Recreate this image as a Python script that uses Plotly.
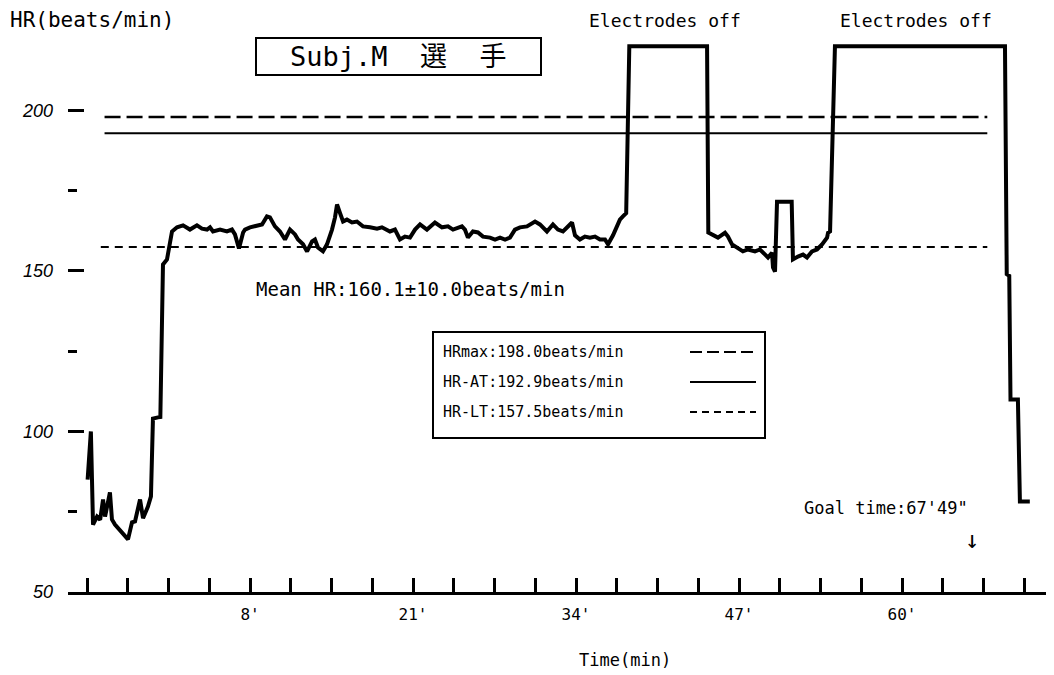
import plotly.graph_objects as go

# ---- data (time in minutes, heart rate in beats/min) ----
time_min = [
    -4.95, -4.69, -4.52, -4.20, -3.95, -3.72, -3.56, -3.17, -3.01, -2.77,
    -1.73, -1.41, -1.17, -0.77, -0.53, -0.14, 0.10, 0.26, 0.66, 0.85,
    1.06, 1.38, 1.78, 2.18, 2.66, 3.21, 3.77, 4.17, 4.57, 4.81,
    5.05, 5.61, 6.16, 6.56, 6.80, 7.12, 7.45, 7.60, 8.00, 8.56,
    8.96, 9.35, 9.59, 9.99, 10.39, 10.79, 11.19, 11.59, 11.83, 12.23,
    12.55, 12.95, 13.18, 13.42, 13.82, 14.14, 14.54, 14.78, 14.94, 15.18,
    15.42, 15.73, 16.13, 16.53, 17.01, 17.57, 18.13, 18.52, 19.16, 19.56,
    19.96, 20.36, 20.76, 21.16, 21.56, 22.11, 22.75, 23.31, 23.79, 24.19,
    24.90, 25.14, 25.38, 25.78, 26.18, 26.58, 27.14, 27.54, 27.94, 28.34,
    28.73, 29.13, 29.53, 30.09, 30.73, 31.12, 31.68, 32.16, 32.56, 32.96,
    33.68, 33.92, 34.31, 34.71, 35.11, 35.51, 35.91, 36.31, 36.55, 36.95,
    37.26, 37.50, 37.74, 38.00, 38.25, 44.45, 44.55, 45.08, 45.32, 45.88,
    46.12, 46.44, 46.84, 47.31, 47.71, 48.27, 48.67, 49.07, 49.31, 49.63,
    49.71, 49.87, 50.03, 51.20, 51.30, 51.70, 52.10, 52.42, 52.82, 53.22,
    53.62, 54.02, 54.10, 54.26, 54.65, 68.21, 68.35, 68.55, 68.65, 69.24,
    69.40, 70.19,
]
hr_bpm = [
    85.0, 100.0, 71.0, 73.5, 72.5, 78.8, 73.5, 81.0, 72.6, 71.0,
    66.4, 71.7, 72.0, 78.8, 73.0, 76.6, 79.8, 104.0, 104.4, 104.5,
    152.0, 153.6, 162.3, 163.6, 164.2, 162.9, 164.2, 163.2, 162.9, 163.6,
    162.3, 162.9, 162.3, 162.9, 161.4, 157.0, 162.0, 162.9, 163.6, 164.0,
    164.5, 167.0, 166.7, 163.9, 162.3, 159.8, 162.9, 161.4, 159.8, 158.3,
    156.1, 159.2, 159.8, 157.3, 156.1, 158.3, 162.9, 166.7, 170.7, 168.0,
    165.4, 166.0, 165.1, 165.4, 163.9, 163.6, 163.2, 163.6, 162.3, 162.9,
    159.8, 160.7, 160.4, 162.9, 164.5, 162.9, 165.1, 163.6, 163.9, 162.9,
    163.9, 162.9, 160.4, 162.3, 162.0, 160.7, 160.4, 159.8, 160.4, 159.8,
    160.4, 162.9, 163.6, 163.9, 165.4, 164.5, 162.3, 164.5, 162.9, 162.3,
    165.1, 161.1, 159.8, 160.7, 160.4, 160.7, 159.8, 159.8, 158.3, 161.1,
    163.6, 166.0, 167.0, 168.0, 220.0, 220.0, 162.0, 161.1, 160.4, 161.9,
    160.7, 158.3, 157.3, 156.1, 156.7, 156.1, 156.7, 155.1, 154.2, 155.7,
    151.1, 149.8, 171.6, 171.6, 153.6, 154.5, 155.1, 154.2, 156.1, 156.7,
    158.3, 160.4, 161.9, 162.3, 220.0, 220.0, 149.0, 148.5, 110.0, 110.0,
    78.2, 78.2,
]

threshold_labels = ["HRmax:198.0beats/min", "HR-AT:192.9beats/min", "HR-LT:157.5beats/min"]
threshold_values = [198.0, 192.9, 157.5]
threshold_start = [-3.6, -3.6, -3.9]
threshold_end = [66.8, 66.8, 66.8]
threshold_dash = ["16px,6px", "solid", "8px,6px"]
threshold_width = [2.5, 2, 2]
legend_dash = ["12px,5px", "solid", "7px,5px"]

x_tick_values = [-5, -1.75, 1.5, 4.75, 8, 11.25, 14.5, 17.75, 21, 24.25, 27.5, 30.75,
                 34, 37.25, 40.5, 43.75, 47, 50.25, 53.5, 56.75, 60, 63.25, 66.5, 69.75]
x_label_values = [8, 21, 34, 47, 60]
x_label_text = ["8'", "21'", "34'", "47'", "60'"]
y_major_ticks = [50, 100, 150, 200]
y_minor_ticks = [75, 125, 175]

MONO = "DejaVu Sans Mono, Noto Sans CJK JP, monospace"

fig = go.Figure()

for v, s, e, d, w in zip(threshold_values, threshold_start, threshold_end, threshold_dash, threshold_width):
    fig.add_trace(go.Scatter(x=[s, e], y=[v, v], mode="lines",
                             line=dict(color="black", width=w, dash=d),
                             hoverinfo="skip", showlegend=False))

fig.add_trace(go.Scatter(x=time_min, y=hr_bpm, mode="lines",
                         line=dict(color="black", width=4),
                         showlegend=False))

tick_text = [x_label_text[x_label_values.index(v)] if v in x_label_values else "" for v in x_tick_values]

# page has an 8px body margin, so the figure is sized/offset to compensate
fig.update_layout(
    width=1046, height=667,
    margin=dict(l=60, r=4, t=19, b=83),
    paper_bgcolor="white", plot_bgcolor="white",
    showlegend=False,
    xaxis=dict(range=[-6.515, 71.8], showgrid=False, zeroline=False,
               showline=True, linecolor="black", linewidth=3,
               ticks="inside", ticklen=14, tickwidth=3, tickcolor="black",
               tickmode="array", tickvals=x_tick_values, ticktext=tick_text,
               tickfont=dict(family=MONO, size=16, color="black"),
               ticklabelstandoff=6),
    yaxis=dict(range=[50, 226], showgrid=False, zeroline=False, showline=False,
               ticks="inside", ticklen=16, tickwidth=3, tickcolor="black",
               tickmode="array", tickvals=y_major_ticks,
               ticktext=[str(v) for v in y_major_ticks],
               tickfont=dict(family="Liberation Sans, Arial", size=18, color="black", style="italic"),
               ticklabelstandoff=14,
               minor=dict(tickmode="array", tickvals=y_minor_ticks, ticks="inside",
                          ticklen=9, tickwidth=2.5, tickcolor="black", showgrid=False)),
)

def px_x(px):
    return (px - 68) / 982.0

def px_y(py):
    return (592 - py) / 565.0

annotations = [
    dict(text="HR(beats/min)", x=px_x(8), y=px_y(20), xanchor="left", size=21),
    dict(text="Electrodes off", x=px_x(665), y=px_y(20), xanchor="center", size=18),
    dict(text="Electrodes off", x=px_x(916), y=px_y(20), xanchor="center", size=18),
    dict(text="Subj.M  選  手", x=px_x(398), y=px_y(57), xanchor="center", size=27),
    dict(text="Mean HR:160.1±10.0beats/min", x=px_x(410), y=px_y(289), xanchor="center", size=19),
    dict(text="Goal time:67'49\"", x=px_x(886), y=px_y(508), xanchor="center", size=17),
    dict(text="↓", x=px_x(972), y=px_y(540), xanchor="center", size=24),
    dict(text="Time(min)", x=px_x(625), y=px_y(660), xanchor="center", size=17),
]
for lbl, ypx in zip(threshold_labels, [352, 382, 412]):
    annotations.append(dict(text=lbl, x=px_x(441), y=px_y(ypx), xanchor="left", size=15))

for a in annotations:
    fig.add_annotation(text=a["text"], x=a["x"], y=a["y"], xref="paper", yref="paper",
                       xanchor=a["xanchor"], yanchor="middle", showarrow=False,
                       font=dict(family=MONO, size=a["size"], color="black"))

# title box and legend box
fig.add_shape(type="rect", xref="paper", yref="paper",
              x0=px_x(256), x1=px_x(541), y0=px_y(75), y1=px_y(38),
              line=dict(color="black", width=2))
fig.add_shape(type="rect", xref="paper", yref="paper",
              x0=px_x(433), x1=px_x(765), y0=px_y(438), y1=px_y(332),
              line=dict(color="black", width=2))
for ld, ypx in zip(legend_dash, [352, 382, 412]):
    fig.add_shape(type="line", xref="paper", yref="paper",
                  x0=px_x(690), x1=px_x(756), y0=px_y(ypx), y1=px_y(ypx),
                  line=dict(color="black", width=1.8, dash=ld))

fig.write_html("out.html")
